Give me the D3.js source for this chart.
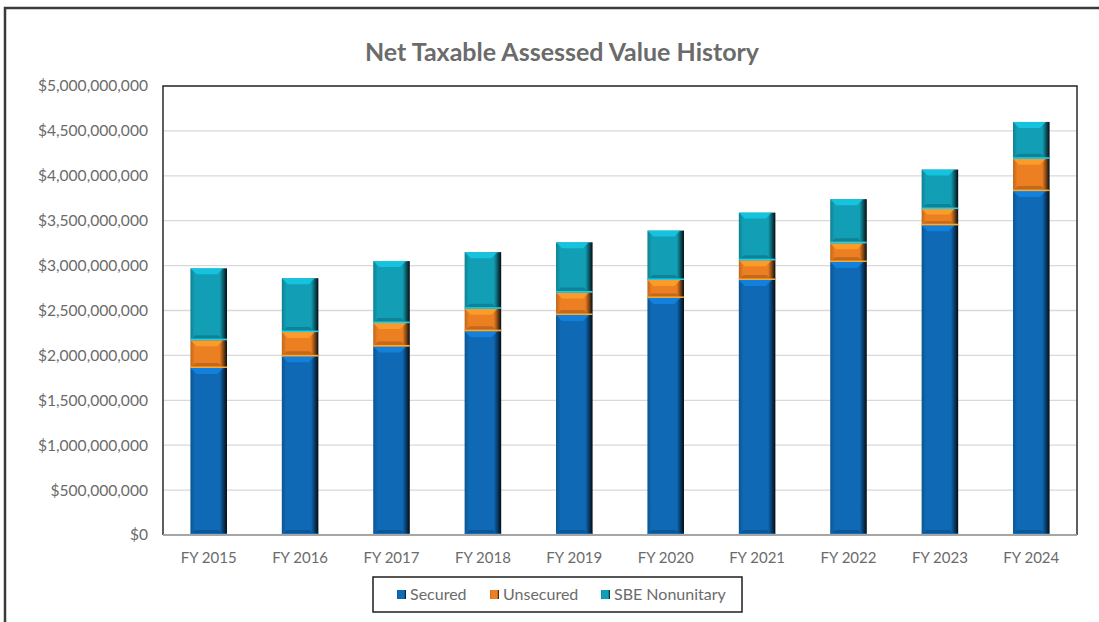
<!DOCTYPE html>
<html>
<head>
<meta charset="utf-8">
<script src="https://cdn.jsdelivr.net/npm/d3@7"></script>
<style>
  body { margin: 0; background: #fff; }
  svg { display: block; font-family: Lato, "Open Sans", sans-serif; }
</style>
</head>
<body>
<script>
// values, in billions of dollars
var years = ["FY 2015", "FY 2016", "FY 2017", "FY 2018", "FY 2019",
             "FY 2020", "FY 2021", "FY 2022", "FY 2023", "FY 2024"];
var secured   = [1.86, 1.99, 2.10, 2.27, 2.45, 2.64, 2.84, 3.04, 3.45, 3.83];
var unsecured = [0.31, 0.27, 0.26, 0.25, 0.25, 0.20, 0.22, 0.21, 0.18, 0.36];
var sbe       = [0.80, 0.60, 0.69, 0.63, 0.56, 0.55, 0.53, 0.49, 0.44, 0.41];
var seriesNames = ["Secured", "Unsecured", "SBE Nonunitary"];
var yTicks = [0, 0.5, 1, 1.5, 2, 2.5, 3, 3.5, 4, 4.5, 5];

var colors = {
  "Secured": "#0f69b4",
  "Unsecured": "#ec7f22",
  "SBE Nonunitary": "#129fb5"
};

var width = 1099, height = 622;
var margin = {top: 86, right: 22, bottom: 87, left: 163};

var svg = d3.select("body").append("svg")
  .attr("width", width)
  .attr("height", height);

// outer chart frame
svg.append("rect")
  .attr("x", 5).attr("y", 8)
  .attr("width", width + 20).attr("height", height + 20)
  .attr("fill", "#fff")
  .attr("stroke", "#3a3a3a")
  .attr("stroke-width", 2.5);

svg.append("text")
  .attr("x", 562).attr("y", 61)
  .attr("text-anchor", "middle")
  .attr("font-size", 25)
  .attr("font-weight", "bold")
  .attr("fill", "#6b6b6b")
  .text("Net Taxable Assessed Value History");

var plotW = width - margin.left - margin.right,
    plotH = height - margin.top - margin.bottom;

var x = d3.scaleBand()
  .domain(years)
  .range([0, plotW])
  .paddingInner(0.6)
  .paddingOuter(0.3);

var y = d3.scaleLinear()
  .domain([0, 5])
  .range([plotH, 0]);

var g = svg.append("g")
  .attr("transform", "translate(" + margin.left + "," + margin.top + ")");

// gradients for the bevelled look
var defs = svg.append("defs");
seriesNames.forEach(function(s, i) {
  var c = d3.color(colors[s]);
  var grad = defs.append("linearGradient")
    .attr("id", "grad" + i)
    .attr("x1", "0").attr("x2", "1").attr("y1", "0").attr("y2", "0");
  grad.append("stop").attr("offset", "0%").attr("stop-color", c.darker(0.6));
  grad.append("stop").attr("offset", "12%").attr("stop-color", c);
  grad.append("stop").attr("offset", "80%").attr("stop-color", c);
  grad.append("stop").attr("offset", "90%").attr("stop-color", c.darker(1.6));
  grad.append("stop").attr("offset", "100%").attr("stop-color", "#050a10");
});

// gridlines
g.append("g")
  .selectAll("line")
  .data(yTicks.slice(1))
  .join("line")
    .attr("x1", 0).attr("x2", plotW)
    .attr("y1", d => y(d)).attr("y2", d => y(d))
    .attr("stroke", "#d9d9d9")
    .attr("stroke-width", 1.3);

// y axis labels
var fmt = d3.format("$,");
g.append("g")
  .selectAll("text")
  .data(yTicks)
  .join("text")
    .attr("x", -15)
    .attr("y", d => y(d))
    .attr("dy", "0.35em")
    .attr("text-anchor", "end")
    .attr("font-size", 15.6)
    .attr("fill", "#6b6b6b")
    .text(d => fmt(Math.round(d * 1e9)));

// stacked data
var table = years.map(function(yr, i) {
  return {year: yr, "Secured": secured[i], "Unsecured": unsecured[i], "SBE Nonunitary": sbe[i]};
});
var stacked = d3.stack().keys(seriesNames)(table);

var bw = x.bandwidth();
stacked.forEach(function(layer, li) {
  var c = d3.color(colors[layer.key]);
  var seg = g.append("g").attr("class", "series-" + li)
    .selectAll("g")
    .data(layer)
    .join("g");

  seg.append("rect")
    .attr("x", d => x(d.data.year))
    .attr("y", d => y(d[1]))
    .attr("width", bw)
    .attr("height", d => y(d[0]) - y(d[1]))
    .attr("fill", "url(#grad" + li + ")");

  // top bevel highlight
  seg.append("path")
    .attr("d", function(d) {
      var x0 = x(d.data.year), y0 = y(d[1]), h = Math.min(6, (y(d[0]) - y(d[1])) / 3);
      return "M" + x0 + "," + y0 + "L" + (x0 + bw * 0.9) + "," + y0 +
             "L" + (x0 + bw * 0.9 - h) + "," + (y0 + h) + "L" + (x0 + h) + "," + (y0 + h) + "Z";
    })
    .attr("fill", c.brighter(0.7))
    .attr("opacity", 0.8);

  // bottom bevel shadow
  seg.append("path")
    .attr("d", function(d) {
      var x0 = x(d.data.year), y1 = y(d[0]), h = Math.min(5, (y(d[0]) - y(d[1])) / 4);
      return "M" + x0 + "," + y1 + "L" + (x0 + bw * 0.9) + "," + y1 +
             "L" + (x0 + bw * 0.9 - h) + "," + (y1 - h) + "L" + (x0 + h) + "," + (y1 - h) + "Z";
    })
    .attr("fill", c.darker(0.8))
    .attr("opacity", 0.7);

  // thin light edge at the bottom of each segment
  seg.append("rect")
    .attr("x", d => x(d.data.year))
    .attr("y", d => y(d[0]) - 1.5)
    .attr("width", bw)
    .attr("height", 1.5)
    .attr("fill", c.brighter(0.8));
});

// plot frame
g.append("path")
  .attr("d", "M0," + plotH + "V0H" + plotW + "V" + plotH)
  .attr("fill", "none")
  .attr("stroke", "#2b2b2b")
  .attr("stroke-width", 1.5);

g.append("line")
  .attr("x1", 0).attr("x2", plotW)
  .attr("y1", plotH).attr("y2", plotH)
  .attr("stroke", "#a6a6a6")
  .attr("stroke-width", 2);

// x labels
g.append("g")
  .selectAll("text")
  .data(years)
  .join("text")
    .attr("x", d => x(d) + bw / 2)
    .attr("y", plotH + 28)
    .attr("text-anchor", "middle")
    .attr("font-size", 15)
    .attr("fill", "#6b6b6b")
    .text(d => d);

// legend
var legend = svg.append("g").attr("transform", "translate(373,577)");
legend.append("rect")
  .attr("width", 369).attr("height", 35)
  .attr("fill", "#fff")
  .attr("stroke", "#1e1e1e")
  .attr("stroke-width", 1.5);

var legendX = [24, 117, 228];
var items = legend.selectAll("g.item")
  .data(seriesNames)
  .join("g")
    .attr("class", "item")
    .attr("transform", (d, i) => "translate(" + legendX[i] + ",13)");

items.append("rect")
  .attr("width", 9).attr("height", 9)
  .attr("fill", (d, i) => "url(#grad" + i + ")");

items.append("text")
  .attr("x", 13).attr("y", 10)
  .attr("font-size", 16)
  .attr("fill", "#6b6b6b")
  .text(d => d);
</script>
</body>
</html>
